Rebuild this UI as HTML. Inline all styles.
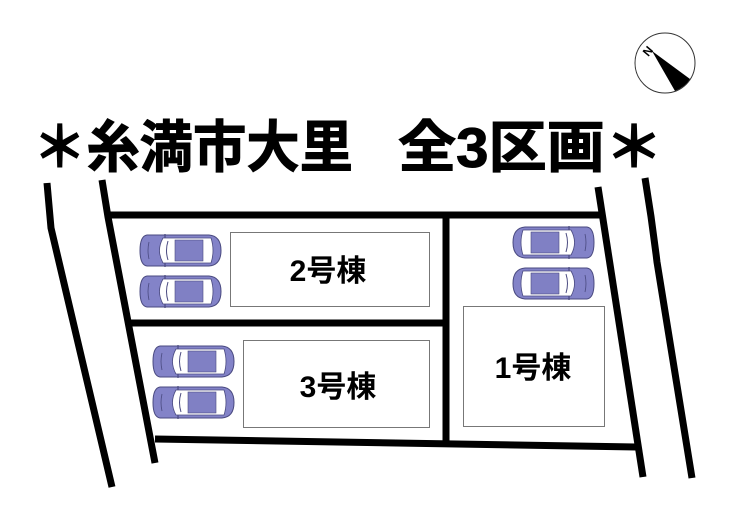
<!DOCTYPE html>
<html><head><meta charset="utf-8"><style>html,body{margin:0;padding:0;background:#fff}svg{display:block}</style></head>
<body>
<svg width="740" height="513" viewBox="0 0 740 513" xmlns="http://www.w3.org/2000/svg">
<defs>
<g id="car">
<path d="M8 1 L70 1 Q82 2 82 16.5 Q82 31 70 32 L8 32 Q1 31 1 16.5 Q1 2 8 1 Z" fill="#8383c8" stroke="#4a4a80" stroke-width="1"/>
<path d="M24 4 L72 4 Q76 16.5 72 29 L24 29 Q17 16.5 24 4 Z" fill="#fff" stroke="#4a4a80" stroke-width="0.8"/>
<rect x="36" y="6" width="28" height="21" fill="#8080c4" stroke="#4a4a80" stroke-width="0.6"/>
<path d="M29 7 Q26 16.5 29 26" fill="none" stroke="#4a4a80" stroke-width="1"/>
<path d="M10 8 Q8 16.5 10 25" fill="none" stroke="#4a4a80" stroke-width="0.8"/>
<line x1="26" y1="0" x2="26" y2="4" stroke="#4a4a80" stroke-width="1.2"/>
<line x1="26" y1="29" x2="26" y2="33" stroke="#4a4a80" stroke-width="1.2"/>
</g>
</defs>
<rect width="740" height="513" fill="#fff"/>
<g font-family="Liberation Sans, Noto Sans CJK JP, sans-serif" font-weight="bold" font-size="56" stroke="#000" stroke-width="1">
<text x="33" y="167" textLength="320" lengthAdjust="spacingAndGlyphs">＊糸満市大里</text>
<text x="398" y="167" textLength="265" lengthAdjust="spacingAndGlyphs">全3区画＊</text>
</g>
<!-- compass -->
<circle cx="665" cy="63" r="30" fill="#fff" stroke="#333" stroke-width="1"/>
<path d="M652 51 L690 79 Q685 87 675 91 Z" fill="#000"/>
<text x="643" y="54" font-family="Liberation Sans, sans-serif" font-size="12" font-weight="bold" transform="rotate(-50 649 50)">N</text>
<!-- roads -->
<g fill="none" stroke="#000" stroke-width="7" stroke-linecap="butt">
<path d="M47 183 Q49 205 51 228 L112 487"/>
<path d="M102 180 L108 217 L155 463"/>
<path d="M598 187 L643 477"/>
<path d="M645 178 Q652 220 657 262 L692 478"/>
<line x1="108" y1="215" x2="600" y2="215"/>
<line x1="130" y1="323" x2="446" y2="323"/>
<line x1="155" y1="439" x2="638" y2="447"/>
<line x1="446" y1="215" x2="446" y2="443"/>
</g>
<!-- buildings -->
<g fill="#fff" stroke="#777" stroke-width="1">
<rect x="230.5" y="232.5" width="199" height="74"/>
<rect x="243.5" y="340.5" width="186" height="87"/>
<rect x="463.5" y="306.5" width="141" height="120"/>
</g>
<g font-family="Liberation Sans, Noto Sans CJK JP, sans-serif" font-weight="bold" font-size="30" text-anchor="middle">
<text x="328" y="281">2号棟</text>
<text x="338" y="397">3号棟</text>
<text x="533" y="378">1号棟</text>
</g>
<!-- cars -->
<use href="#car" x="139" y="234"/>
<use href="#car" x="139" y="275"/>
<use href="#car" x="152" y="345"/>
<use href="#car" x="152" y="386"/>
<use href="#car" transform="translate(595 226) scale(-1 1)"/>
<use href="#car" transform="translate(595 267) scale(-1 1)"/>
</svg>
</body></html>
